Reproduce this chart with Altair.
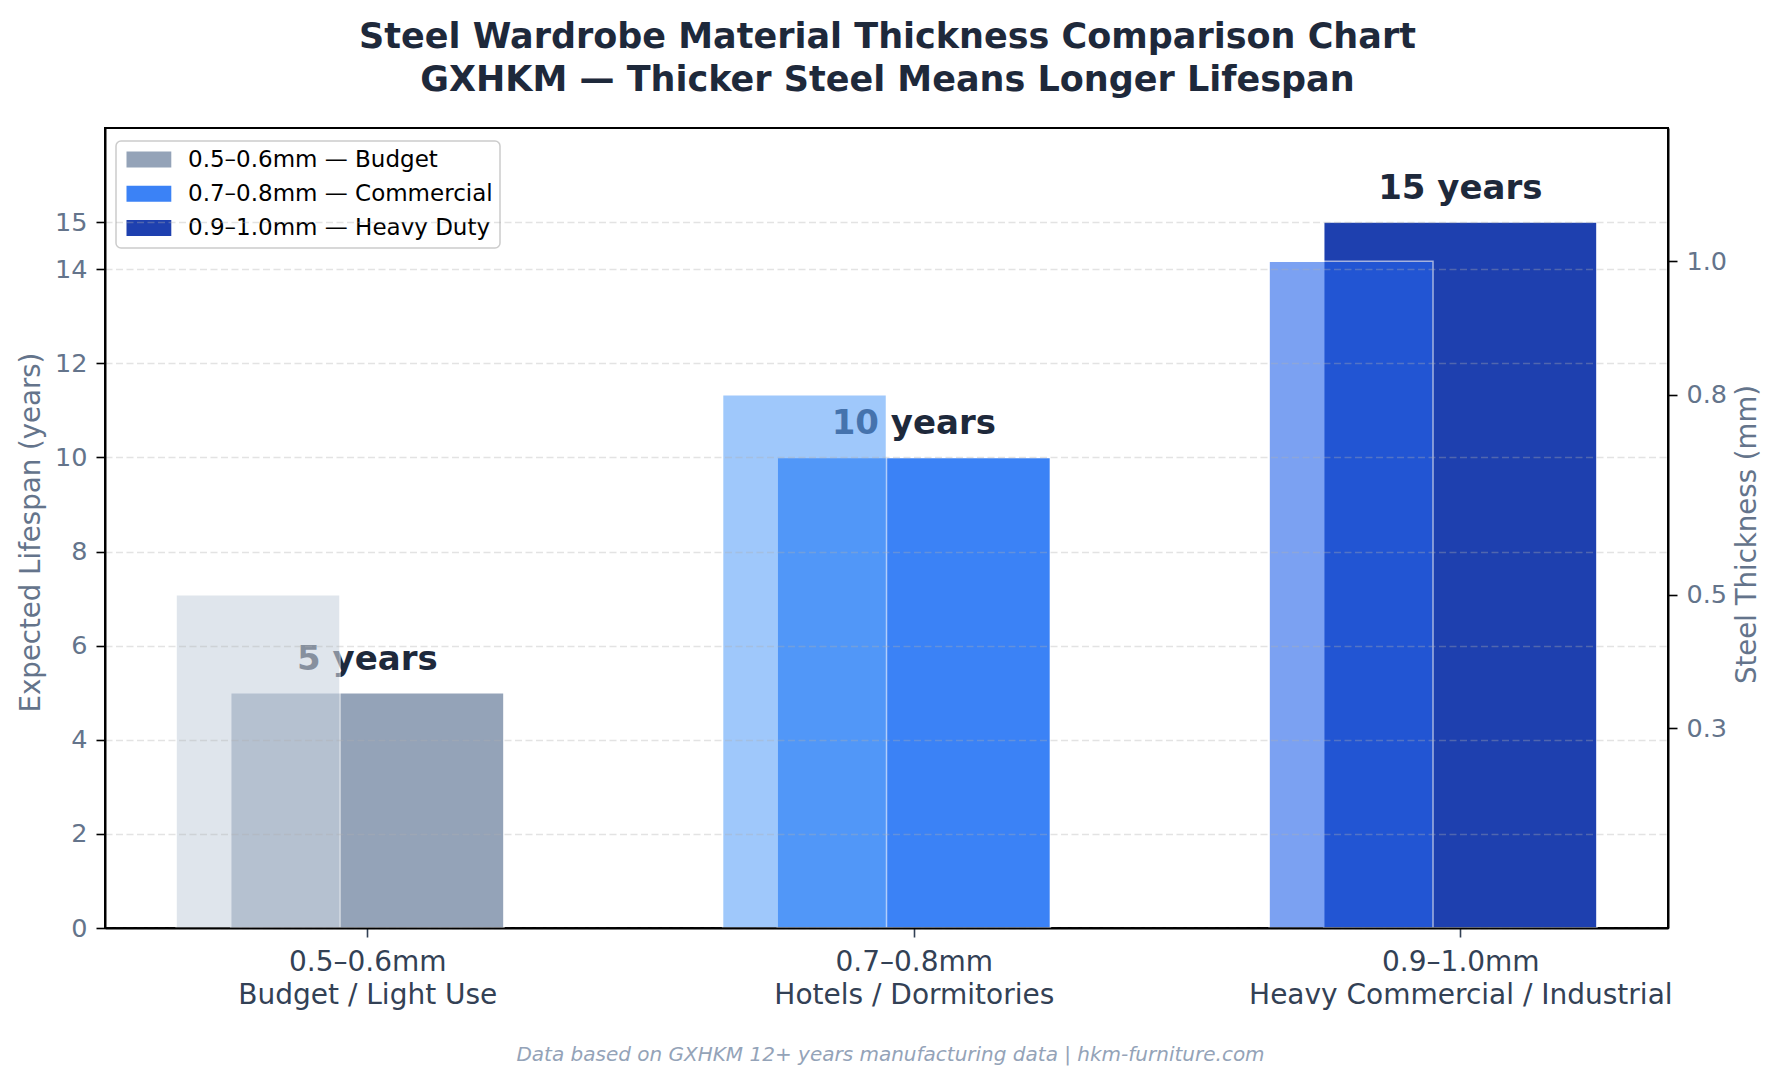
import json

import altair as alt
import pandas as pd

FONT = "DejaVu Sans"

# data
thickness_ranges = ["0.5–0.6mm", "0.7–0.8mm", "0.9–1.0mm"]
use_cases = ["Budget / Light Use", "Hotels / Dormitories", "Heavy Commercial / Industrial"]
legend_names = ["0.5–0.6mm — Budget", "0.7–0.8mm — Commercial", "0.9–1.0mm — Heavy Duty"]
lifespan_years = [5, 10, 15]
thickness_mm = [0.5, 0.8, 1.0]
lifespan_colors = ["#94a3b8", "#3b82f6", "#1e40af"]
thickness_colors = ["#cbd5e1", "#60a5fa", "#2563eb"]
left_ticks = [0, 2, 4, 6, 8, 10, 12, 14, 15]
right_ticks = [0.3, 0.5, 0.8, 1.0]
footer = "Data based on GXHKM 12+ years manufacturing data | hkm-furniture.com"

# bar geometry in category units
LIFE_W = 0.5
THICK_W = 0.3
THICK_SHIFT = -0.2

df = pd.DataFrame({
    "idx": list(range(len(lifespan_years))),
    "name": legend_names,
    "years": lifespan_years,
    "mm": thickness_mm,
    "tcolor": thickness_colors,
})
df["label"] = [f"{y} years" for y in lifespan_years]
df["life_x0"] = df["idx"] - LIFE_W / 2
df["life_x1"] = df["idx"] + LIFE_W / 2
df["thick_x0"] = df["idx"] + THICK_SHIFT - THICK_W / 2
df["thick_x1"] = df["idx"] + THICK_SHIFT + THICK_W / 2

tick_lines = [[a, b] for a, b in zip(thickness_ranges, use_cases)]
label_expr = json.dumps(tick_lines, ensure_ascii=False) + "[datum.value]"

x_scale = alt.Scale(domain=[-0.48, 2.38], nice=False, zero=False)
x_axis = alt.Axis(
    values=[0, 1, 2], labelExpr=label_expr, grid=False,
    labelFont=FONT, labelFontSize=28, labelColor="#334155", labelLineHeight=33,
    labelPadding=11, labelFlush=False, labelOverlap=False, labelLimit=800,
    tickColor="#334155", tickSize=9, tickWidth=1.6,
    domainColor="black", domainWidth=2, zindex=1,
    title=footer, titleFont=FONT, titleFontSize=20, titleFontStyle="italic",
    titleFontWeight="normal", titleColor="#94a3b8", titleLimit=1500,
    titleX=785, titleY=126, titleBaseline="middle", titleAlign="center",
)
left_axis = alt.Axis(
    values=left_ticks, format="d", grid=True,
    gridColor="#b0b0b0", gridOpacity=0.35, gridDash=[7, 3.5], gridWidth=1.6,
    labelFont=FONT, labelFontSize=25.5, labelColor="#64748b", labelPadding=9,
    labelOverlap=False,
    tickColor="black", tickSize=9, tickWidth=1.6,
    domainColor="black", domainWidth=2, zindex=1,
    title="Expected Lifespan (years)", titleFont=FONT, titleFontSize=27.6,
    titleFontWeight="normal", titleColor="#64748b",
    titleX=-74, titleY=404, titleAngle=270, titleAlign="center", titleBaseline="middle",
)
right_axis = alt.Axis(
    orient="right", values=right_ticks, format=".1f", grid=False,
    labelFont=FONT, labelFontSize=25.5, labelColor="#64748b", labelPadding=9,
    labelOverlap=False,
    tickColor="black", tickSize=9, tickWidth=1.6,
    domainColor="black", domainWidth=2, zindex=1,
    title="Steel Thickness (mm)", titleFont=FONT, titleFontSize=27.6,
    titleFontWeight="normal", titleColor="#64748b",
    titleX=79, titleY=406, titleAngle=270, titleAlign="center", titleBaseline="middle",
)

y_left = alt.Y("years:Q", scale=alt.Scale(domain=[0, 17], nice=False), axis=left_axis)

life_bars = alt.Chart(df).mark_rect(stroke="white", strokeWidth=1.5).encode(
    x=alt.X("life_x0:Q", scale=x_scale, axis=x_axis),
    x2="life_x1:Q",
    y=y_left,
    y2=alt.datum(0),
    color=alt.Color(
        "name:N",
        scale=alt.Scale(domain=legend_names, range=lifespan_colors),
        legend=alt.Legend(
            orient="none", legendX=11, legendY=13, title=None,
            fillColor="white", strokeColor="#cccccc", cornerRadius=5,
            padding=7, labelFont=FONT, labelFontSize=23, labelColor="black",
            labelLimit=600,
            # wide swatch: path drawn to the right of a small nominal symbol
            symbolType="M-1,-1H4.6V1H-1Z", symbolSize=256, symbolStrokeWidth=0,
            symbolOpacity=1, labelOffset=42, rowPadding=10.3,
        ),
    ),
)

labels = alt.Chart(df).mark_text(
    font=FONT, fontSize=34, fontWeight="bold", color="#1e293b",
    baseline="alphabetic", dy=-23,
).encode(
    x=alt.X("idx:Q", scale=x_scale, axis=x_axis),
    y=y_left,
    text="label:N",
)

thick_bars = alt.Chart(df).mark_rect(opacity=0.6, stroke="white", strokeWidth=1.5).encode(
    x=alt.X("thick_x0:Q", scale=x_scale, axis=x_axis),
    x2="thick_x1:Q",
    y=alt.Y("mm:Q", scale=alt.Scale(domain=[0, 1.2], nice=False), axis=right_axis),
    y2=alt.datum(0),
    color=alt.Color("tcolor:N", scale=None),
)

chart = alt.layer(alt.layer(life_bars, labels), thick_bars).resolve_scale(
    y="independent"
).properties(
    width=1563,
    height=800,
    autosize=alt.AutoSizeParams(type="none"),
    padding={"left": 97, "top": 120, "right": 106, "bottom": 142},
    title=alt.TitleParams(
        text=[
            "Steel Wardrobe Material Thickness Comparison Chart",
            "GXHKM — Thicker Steel Means Longer Lifespan",
        ],
        font=FONT, fontSize=35, fontWeight="bold", color="#1e293b",
        anchor="middle", offset=27, lineHeight=43, baseline="bottom", dx=1, dy=32,
    ),
).configure(
    font=FONT, background="white",
).configure_legend(
    strokeWidth=1.5,
).configure_view(
    stroke="black", strokeWidth=2,
)

chart.save("out.html", embed_options={"renderer": "svg", "actions": False})
